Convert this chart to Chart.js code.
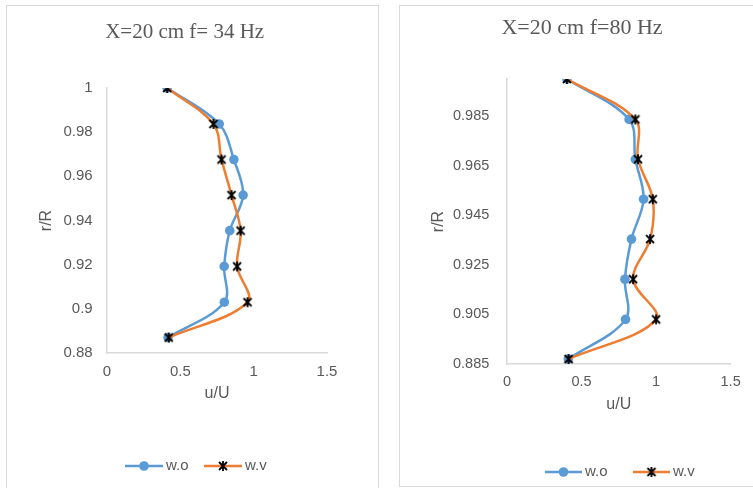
<!DOCTYPE html>
<html>
<head>
<meta charset="utf-8">
<script src="https://cdn.jsdelivr.net/npm/chart.js@4/dist/chart.umd.min.js"></script>
<style>
body { margin: 0; background: #fff; width: 753px; height: 488px; overflow: hidden; position: relative; }
.frame { position: absolute; border: 1.5px solid #d9d9d9; box-sizing: border-box; }
.box { position: absolute; }
</style>
</head>
<body>
<div class="frame" style="left:6px;top:5px;width:373px;height:500px"></div>
<div class="frame" style="left:399px;top:5px;width:370px;height:482px"></div>
<div class="box" style="left:7px;top:6px;width:372px;height:482px"><canvas id="c1"></canvas></div>
<div class="box" style="left:400px;top:6px;width:350px;height:481px"><canvas id="c2"></canvas></div>
<script>
// r/R positions (same for both runs)
const rR = [1, 0.9837, 0.9676, 0.9515, 0.9354, 0.9192, 0.903, 0.887];

// u/U, f = 34 Hz
const uo34 = [0.41, 0.765, 0.865, 0.928, 0.837, 0.799, 0.80, 0.416];
const uv34 = [0.41, 0.726, 0.781, 0.849, 0.911, 0.887, 0.958, 0.421];

// u/U, f = 80 Hz
const uo80 = [0.402, 0.819, 0.861, 0.916, 0.835, 0.791, 0.795, 0.411];
const uv80 = [0.402, 0.861, 0.879, 0.978, 0.960, 0.846, 1.0, 0.413];

const xTicks = [0, 0.5, 1, 1.5];
const yTicks34 = [0.88, 0.9, 0.92, 0.94, 0.96, 0.98, 1];
const yTicks80 = [0.885, 0.905, 0.925, 0.945, 0.965, 0.985];

const names = ['w.o', 'w.v'];
const titles = ['X=20 cm f= 34 Hz', 'X=20 cm f=80 Hz'];

const grey = '#595959';
const blue = '#5B9BD5';
const orange = '#ED7D31';

Chart.defaults.font.family = 'Liberation Sans';

// excel style star marker: X plus a vertical bar
function starImg(size) {
    const c = document.createElement('canvas');
    c.width = size;
    c.height = size;
    const g = c.getContext('2d');
    const m = size / 2;
    const r = size / 2 - 1;
    g.strokeStyle = '#000';
    g.lineWidth = 1.8;
    g.beginPath();
    g.moveTo(m - r * 0.8, m - r * 0.8); g.lineTo(m + r * 0.8, m + r * 0.8);
    g.moveTo(m + r * 0.8, m - r * 0.8); g.lineTo(m - r * 0.8, m + r * 0.8);
    g.moveTo(m, m - r); g.lineTo(m, m + r);
    g.stroke();
    return c;
}
const star = starImg(12);

// plain number labels like excel (1, 0.9, 0.985)
function fmt(v) {
    return String(+v.toFixed(3));
}

// title + legend drawn at fixed spots like the excel layout
const frameText = {
    id: 'frameText',
    afterDraw(chart, args, o) {
        const ctx = chart.ctx;
        ctx.save();
        ctx.fillStyle = grey;
        ctx.font = o.titleFont;
        ctx.textAlign = 'center';
        ctx.textBaseline = 'middle';
        ctx.fillText(o.title, o.titleX, o.titleY);

        ctx.font = o.legendFont;
        ctx.textAlign = 'left';
        chart.data.datasets.forEach((ds, i) => {
            const x = o.legendX[i];
            const y = o.legendY;
            ctx.strokeStyle = ds.borderColor;
            ctx.lineWidth = ds.borderWidth;
            ctx.beginPath();
            ctx.moveTo(x, y);
            ctx.lineTo(x + o.lineLen, y);
            ctx.stroke();
            const mx = x + o.lineLen / 2;
            if (ds.pointStyle === 'circle') {
                ctx.fillStyle = ds.pointBackgroundColor;
                ctx.beginPath();
                ctx.arc(mx, y, ds.pointRadius, 0, 2 * Math.PI);
                ctx.fill();
            } else {
                ctx.drawImage(ds.pointStyle, mx - ds.pointStyle.width / 2, y - ds.pointStyle.height / 2);
            }
            ctx.fillStyle = grey;
            ctx.fillText(ds.label, x + o.lineLen + 3, y);
        });
        ctx.restore();
    }
};

function points(u) {
    return rR.map((r, i) => ({ x: u[i], y: r }));
}

function makeChart(id, title, uo, uv, yTicks, yMin, yMax, lay) {
    return new Chart(document.getElementById(id), {
        type: 'scatter',
        data: {
            datasets: [
                {
                    label: names[0], data: points(uo), showLine: true, order: 1,
                    borderColor: blue, backgroundColor: blue, borderWidth: 2.5, tension: 0.35,
                    pointStyle: 'circle', pointRadius: 4.8, pointBorderWidth: 0, pointBackgroundColor: blue
                },
                {
                    label: names[1], data: points(uv), showLine: true, order: 0,
                    borderColor: orange, backgroundColor: orange, borderWidth: 2.5, tension: 0.35,
                    pointStyle: star, pointRadius: 6, pointBackgroundColor: '#000'
                }
            ]
        },
        plugins: [frameText],
        options: {
            responsive: true,
            maintainAspectRatio: false,
            animation: false,
            layout: { padding: lay.padding },
            plugins: {
                legend: { display: false },
                tooltip: { enabled: false },
                frameText: lay.text
            },
            scales: {
                x: {
                    type: 'linear', min: 0, max: 1.5,
                    afterBuildTicks: s => { s.ticks = xTicks.map(v => ({ value: v })); },
                    afterFit: s => { s.height = lay.xHeight; },
                    grid: { display: false, drawTicks: false },
                    border: { color: '#d9d9d9', width: 1.5 },
                    ticks: { color: grey, font: { size: lay.tickSize }, padding: lay.xTickPad, callback: fmt },
                    title: { display: true, text: 'u/U', color: grey, font: { size: 16 }, padding: { top: 0, bottom: lay.xTitlePad } }
                },
                y: {
                    type: 'linear', min: yMin, max: yMax,
                    afterBuildTicks: s => { s.ticks = yTicks.map(v => ({ value: v })); },
                    afterFit: s => { s.width = lay.yWidth; },
                    grid: { display: false, drawTicks: false },
                    border: { color: '#d9d9d9', width: 1.5 },
                    ticks: { color: grey, font: { size: lay.tickSize }, padding: lay.yTickPad, callback: fmt },
                    title: { display: true, text: 'r/R', color: grey, font: { size: 16 }, padding: { top: lay.yTitlePad, bottom: 0 } }
                }
            }
        }
    });
}

makeChart('c1', titles[0], uo34, uv34, yTicks34, 0.88, 1, {
    padding: { left: 0, right: 52, top: 82, bottom: 75 },
    xHeight: 60, yWidth: 100, tickSize: 15,
    xTickPad: 9.7, yTickPad: 14.3, xTitlePad: 9.4, yTitlePad: 30,
    text: {
        title: titles[0], titleFont: '21px "Liberation Serif"', titleX: 177.7, titleY: 26,
        legendFont: '15px "Liberation Sans"', legendX: [118, 197], legendY: 460, lineLen: 38
    }
});

makeChart('c2', titles[1], uo80, uv80, yTicks80, 0.885, 1, {
    padding: { left: 0, right: 16, top: 73, bottom: 63 },
    xHeight: 60, yWidth: 107, tickSize: 14.5,
    xTickPad: 9.3, yTickPad: 17.7, xTitlePad: 9.4, yTitlePad: 28.7,
    text: {
        title: titles[1], titleFont: '22px "Liberation Serif"', titleX: 182, titleY: 22,
        legendFont: '15px "Liberation Sans"', legendX: [145, 233], legendY: 466, lineLen: 37
    }
});
</script>
</body>
</html>
